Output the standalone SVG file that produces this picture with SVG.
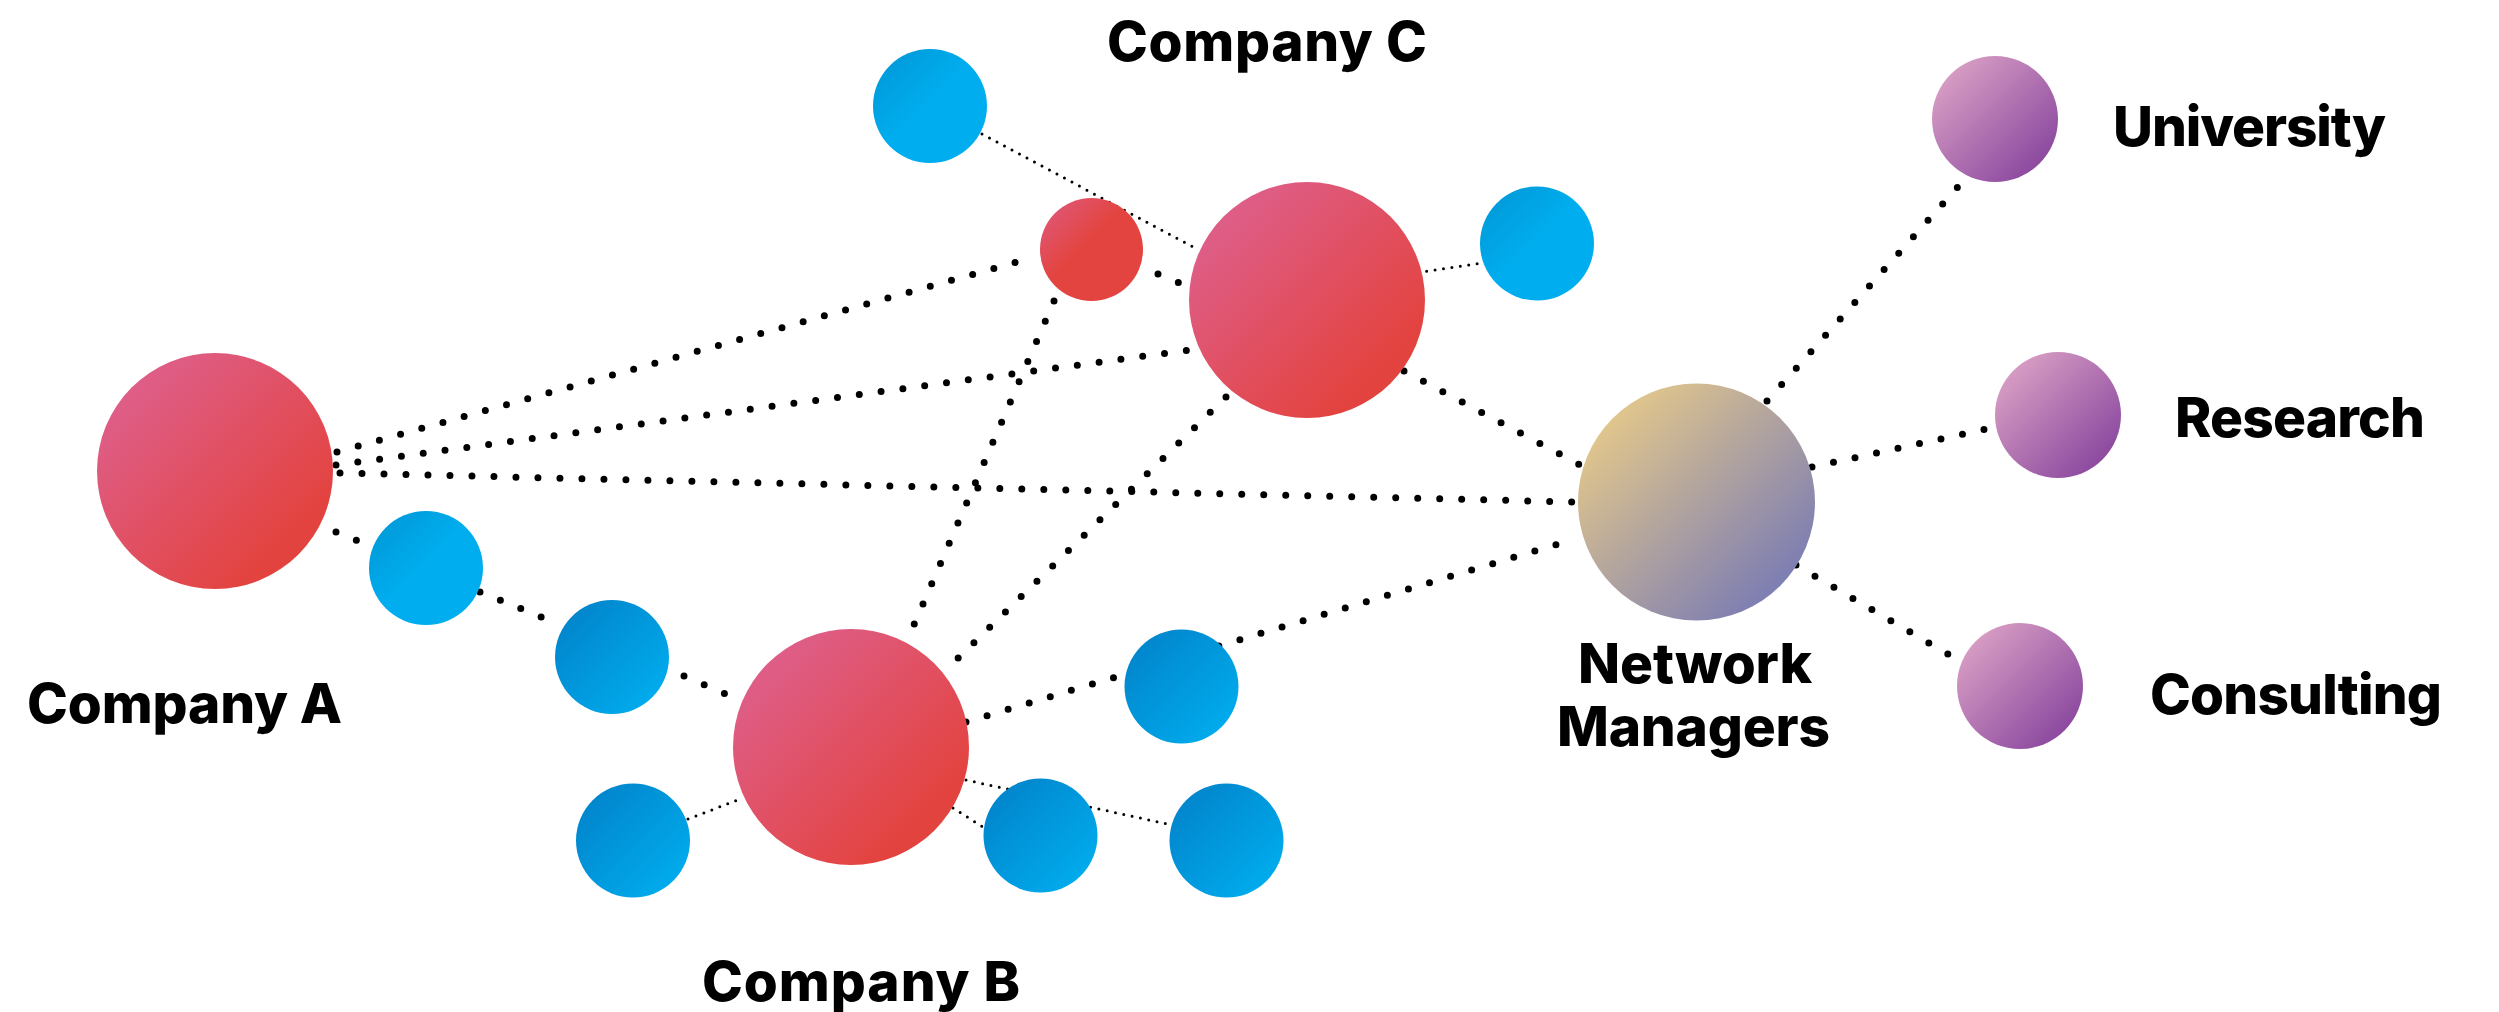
<svg xmlns="http://www.w3.org/2000/svg" width="2499" height="1012" viewBox="0 0 2499 1012">
  <defs>
    <linearGradient id="gRed" x1="0" y1="0" x2="1" y2="1">
      <stop offset="0.12" stop-color="#de5f8b"/>
      <stop offset="0.8" stop-color="#e3433f"/>
    </linearGradient>
    <linearGradient id="gRedSmall" x1="0" y1="0" x2="1" y2="1">
      <stop offset="0.1" stop-color="#df5674"/>
      <stop offset="0.45" stop-color="#e3443f"/>
    </linearGradient>
    <linearGradient id="gBlueLight" x1="0" y1="0" x2="1" y2="1">
      <stop offset="0.1" stop-color="#019ad9"/>
      <stop offset="0.5" stop-color="#00aeef"/>
    </linearGradient>
    <linearGradient id="gBlueDark" x1="0" y1="0" x2="1" y2="1">
      <stop offset="0.12" stop-color="#0285cc"/>
      <stop offset="0.92" stop-color="#00aeef"/>
    </linearGradient>
    <linearGradient id="gHub" x1="0" y1="0" x2="1" y2="1">
      <stop offset="0.12" stop-color="#e4c88b"/>
      <stop offset="0.88" stop-color="#797bb4"/>
    </linearGradient>
    <linearGradient id="gPurple" x1="0" y1="0" x2="1" y2="1">
      <stop offset="0.12" stop-color="#d89ec4"/>
      <stop offset="0.88" stop-color="#8a479e"/>
    </linearGradient>
  </defs>
  <style>
    .thick { fill: none; stroke: #000; stroke-width: 7; stroke-linecap: round; stroke-dasharray: 0 22; }
    .thin { fill: none; stroke: #000; stroke-width: 3; stroke-linecap: round; stroke-dasharray: 0 8.5; }
    .label { font-family: Inter, "Liberation Sans", sans-serif; font-weight: 800; font-size: 55px; fill: #000; }
  </style>
  <rect width="2499" height="1012" fill="#ffffff"/>

  <g id="connectors">
    <path class="thick" d="M337 452 L1035 257"/>
    <path class="thick" d="M336 465 L1197 349"/>
    <path class="thick" d="M340 473 L1575 502"/>
    <path class="thick" d="M336 532 L358 541"/>
    <path class="thick" d="M480 592 L561 625"/>
    <path class="thick" d="M684 676 L728 695"/>
    <path class="thick" d="M1054 301 L913 627"/>
    <path class="thick" d="M1226 397 L951 665"/>
    <path class="thick" d="M1158 274 L1182 284"/>
    <path class="thick" d="M1404 371 L1584 467"/>
    <path class="thick" d="M966 722 L1568 541"/>
    <path class="thick" d="M1767 401 L1964 180"/>
    <path class="thick" d="M1812 467 L1991 428"/>
    <path class="thick" d="M1796 565 L1963 663"/>
    <path class="thin" d="M982 134 L1197 249"/>
    <path class="thin" d="M1393 276 L1483 263"/>
    <path class="thin" d="M688 819 L743 798"/>
    <path class="thin" d="M953 808 L983 827"/>
    <path class="thin" d="M966 780 L1172 825"/>
  </g>

  <g id="company-a">
    <circle cx="215" cy="471" r="118" fill="url(#gRed)"/>
    <text class="label" x="27" y="723" textLength="315">Company A</text>
  </g>
  <g id="a-member-1"><circle cx="426" cy="568" r="57" fill="url(#gBlueLight)"/></g>
  <g id="a-member-2"><circle cx="612" cy="657" r="57" fill="url(#gBlueDark)"/></g>

  <g id="company-c">
    <circle cx="1307" cy="300" r="118" fill="url(#gRed)"/>
    <text class="label" x="1107" y="61" textLength="320">Company C</text>
  </g>
  <g id="c-partner"><circle cx="1091.5" cy="249.5" r="51.5" fill="url(#gRedSmall)"/></g>
  <g id="c-member-1"><circle cx="930" cy="106" r="57" fill="url(#gBlueLight)"/></g>
  <g id="c-member-2"><circle cx="1537" cy="243.5" r="57" fill="url(#gBlueLight)"/></g>

  <g id="company-b">
    <circle cx="851" cy="747" r="118" fill="url(#gRed)"/>
    <text class="label" x="702" y="1001" textLength="318">Company B</text>
  </g>
  <g id="b-member-1"><circle cx="633" cy="840.5" r="57" fill="url(#gBlueDark)"/></g>
  <g id="b-member-2"><circle cx="1040.5" cy="835.5" r="57" fill="url(#gBlueDark)"/></g>
  <g id="b-member-3"><circle cx="1226.5" cy="840.5" r="57" fill="url(#gBlueDark)"/></g>
  <g id="b-member-4"><circle cx="1181.5" cy="686.5" r="57" fill="url(#gBlueDark)"/></g>

  <g id="network-managers">
    <circle cx="1696.5" cy="502" r="118.5" fill="url(#gHub)"/>
    <text class="label" x="1578" y="683" textLength="234">Network</text>
    <text class="label" x="1557" y="746" textLength="273">Managers</text>
  </g>

  <g id="university">
    <circle cx="1995" cy="119" r="63" fill="url(#gPurple)"/>
    <text class="label" x="2113" y="146" textLength="273">University</text>
  </g>
  <g id="research">
    <circle cx="2058" cy="415" r="63" fill="url(#gPurple)"/>
    <text class="label" x="2175" y="437" textLength="250">Research</text>
  </g>
  <g id="consulting">
    <circle cx="2020" cy="686" r="63" fill="url(#gPurple)"/>
    <text class="label" x="2150" y="714" textLength="292">Consulting</text>
  </g>
</svg>
